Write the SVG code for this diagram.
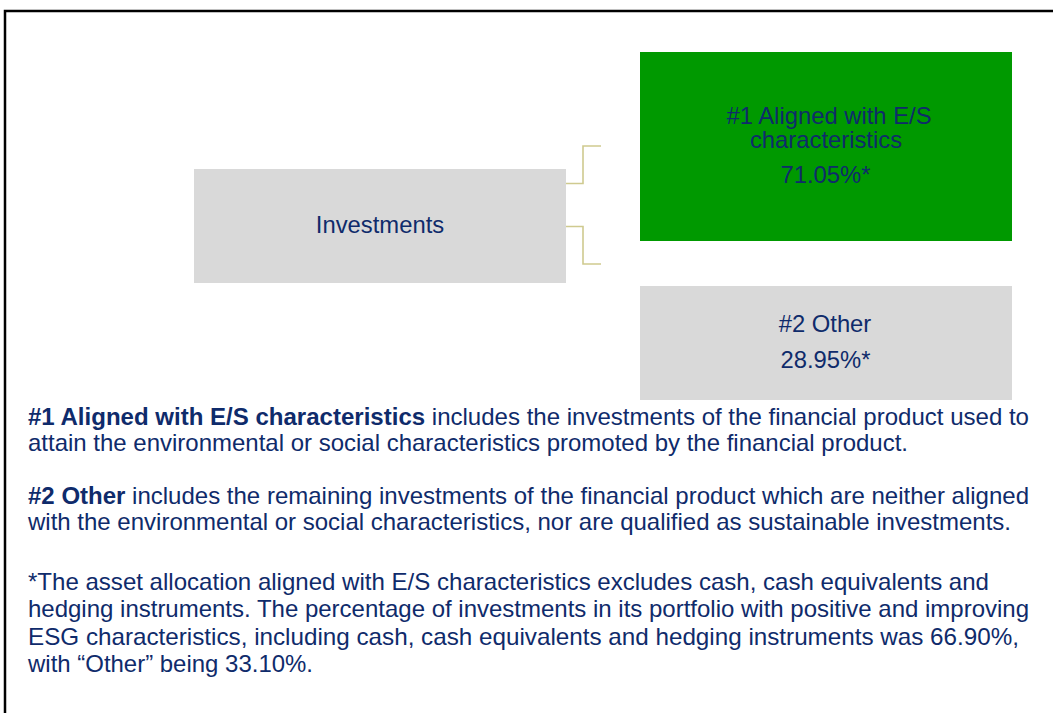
<svg xmlns="http://www.w3.org/2000/svg" width="1053" height="713" viewBox="0 0 1053 713">
<style>
.t{font-family:"Liberation Sans",Arial,sans-serif;fill:#0f2b6b;}
.box{font-size:23.8px;text-anchor:middle;}
.body{font-size:24px;}
.b{font-weight:bold;}
.conn{fill:none;stroke:#cfca8f;stroke-width:1.6;}
</style>
<rect x="5" y="11" width="1200" height="900" fill="#ffffff" stroke="#000000" stroke-width="2.5"/>
<g id="connectors">
<path class="conn" d="M566,183.5 H583 V146 H601"/>
<path class="conn" d="M566,226.5 H583 V264 H601"/>
</g>
<g id="investments">
<rect x="194" y="169" width="372" height="114" fill="#d9d9d9"/>
<text class="t box" x="380" y="232.5">Investments</text>
</g>
<g id="aligned">
<rect x="640" y="52" width="372" height="189" fill="#009900"/>
<text class="t box" x="829" y="124">#1 Aligned with E/S</text>
<text class="t box" x="826" y="148">characteristics</text>
<text class="t box" x="825.5" y="182.5">71.05%*</text>
</g>
<g id="other">
<rect x="640" y="286" width="372" height="114" fill="#d9d9d9"/>
<text class="t box" x="825" y="331.5">#2 Other</text>
<text class="t box" x="825.5" y="367.5">28.95%*</text>
</g>
<g id="notes">
<text class="t body" x="28" y="425" textLength="1001" lengthAdjust="spacingAndGlyphs"><tspan class="b">#1 Aligned with E/S characteristics</tspan> includes the investments of the financial product used to</text>
<text class="t body" x="28" y="451" textLength="880" lengthAdjust="spacingAndGlyphs">attain the environmental or social characteristics promoted by the financial product.</text>
<text class="t body" x="28" y="504" textLength="1001" lengthAdjust="spacingAndGlyphs"><tspan class="b">#2 Other</tspan> includes the remaining investments of the financial product which are neither aligned</text>
<text class="t body" x="28" y="530" textLength="983" lengthAdjust="spacingAndGlyphs">with the environmental or social characteristics, nor are qualified as sustainable investments.</text>
<text class="t body" x="28" y="590" textLength="961" lengthAdjust="spacingAndGlyphs">*The asset allocation aligned with E/S characteristics excludes cash, cash equivalents and</text>
<text class="t body" x="28" y="617" textLength="1001" lengthAdjust="spacingAndGlyphs">hedging instruments. The percentage of investments in its portfolio with positive and improving</text>
<text class="t body" x="28" y="645" textLength="991" lengthAdjust="spacingAndGlyphs">ESG characteristics, including cash, cash equivalents and hedging instruments was 66.90%,</text>
<text class="t body" x="28" y="672" textLength="285" lengthAdjust="spacingAndGlyphs">with “Other” being 33.10%.</text>
</g>
</svg>
